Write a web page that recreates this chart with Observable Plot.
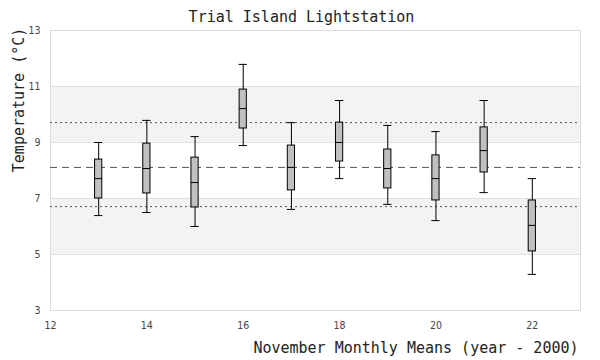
<!DOCTYPE html>
<html>
<head>
<meta charset="utf-8">
<script src="https://cdn.jsdelivr.net/npm/d3@7"></script>
<script src="https://cdn.jsdelivr.net/npm/@observablehq/plot@0.6"></script>
<style>
  html, body { margin: 0; padding: 0; background: #fff; }
</style>
</head>
<body>
<div id="chart"></div>
<script>
const years  = [13, 14, 15, 16, 17, 18, 19, 20, 21, 22];
const low    = [6.39, 6.50, 6.00, 8.89, 6.61, 7.71, 6.79, 6.21, 7.21, 4.29];
const q1     = [7.00, 7.18, 6.68, 9.50, 7.29, 8.32, 7.36, 6.93, 7.93, 5.11];
const median = [7.71, 8.07, 7.57, 10.21, 8.11, 9.00, 8.07, 7.71, 8.71, 6.04];
const q3     = [8.39, 8.96, 8.46, 10.89, 8.89, 9.71, 8.75, 8.54, 9.54, 6.93];
const high   = [9.00, 9.79, 9.21, 11.79, 9.71, 10.50, 9.61, 9.39, 10.50, 7.71];

const meanLine = 8.11;
const upperLine = 9.71;
const lowerLine = 6.71;

const bands = [{y1: 5, y2: 7}, {y1: 9, y2: 11}];
const yTicks = [3, 5, 7, 9, 11, 13];
const xTicks = [12, 14, 16, 18, 20, 22];

const title = "Trial Island Lightstation";
const xLabel = "November Monthly Means (year - 2000)";
const yLabel = "Temperature (°C)";

const data = years.map((y, i) => ({year: y, low: low[i], q1: q1[i], median: median[i], q3: q3[i], high: high[i]}));

const boxHalf = 0.075;
const capHalf = 0.086;
const mono = "DejaVu Sans Mono";
const tickFont = "DejaVu Sans Condensed";

const chart = Plot.plot({
  width: 600,
  height: 360,
  marginLeft: 50,
  marginRight: 20,
  marginTop: 30,
  marginBottom: 50,
  style: {fontFamily: tickFont, fontSize: "10.5px", color: "#444", background: "#fff"},
  x: {domain: [12, 23]},
  y: {domain: [3, 13]},
  marks: [
    Plot.rect(bands, {y1: "y1", y2: "y2", fill: "#f3f3f3"}),
    Plot.ruleY(yTicks, {stroke: "#e0e0e0"}),
    Plot.frame({stroke: "#dcdcdc"}),
    Plot.ruleY([upperLine, lowerLine], {stroke: "#555", strokeDasharray: "2,3"}),
    Plot.ruleY([meanLine], {stroke: "#555", strokeDasharray: "7,5"}),
    Plot.ruleX(data, {x: "year", y1: "low", y2: "high", stroke: "#000"}),
    Plot.ruleY(data, {y: "low", x1: d => d.year - capHalf, x2: d => d.year + capHalf, stroke: "#000"}),
    Plot.ruleY(data, {y: "high", x1: d => d.year - capHalf, x2: d => d.year + capHalf, stroke: "#000"}),
    Plot.rect(data, {x1: d => d.year - boxHalf, x2: d => d.year + boxHalf, y1: "q1", y2: "q3", fill: "#c0c0c0", stroke: "#000"}),
    Plot.ruleY(data, {y: "median", x1: d => d.year - boxHalf, x2: d => d.year + boxHalf, stroke: "#000"}),
    Plot.axisX({ticks: xTicks, tickSize: 0, tickPadding: 11, label: null, fill: "#444", fontSize: 10.5, fontFamily: tickFont}),
    Plot.axisY({ticks: yTicks, tickSize: 0, tickPadding: 10, label: null, fill: "#444", fontSize: 10.5, fontFamily: tickFont}),
    Plot.text([title], {frameAnchor: "top", lineAnchor: "bottom", dx: -14, dy: -9, fontFamily: mono, fontSize: 15, fill: "#222"}),
    Plot.text([xLabel], {frameAnchor: "bottom-right", textAnchor: "end", lineAnchor: "bottom", dx: -2, dy: 42, fontFamily: mono, fontSize: 15, fill: "#222"}),
    Plot.text([yLabel], {frameAnchor: "left", rotate: -90, lineAnchor: "bottom", dx: -27, dy: 1.7, fontFamily: mono, fontSize: 15, fill: "#222"})
  ]
});

document.getElementById("chart").appendChild(chart);
</script>
</body>
</html>
